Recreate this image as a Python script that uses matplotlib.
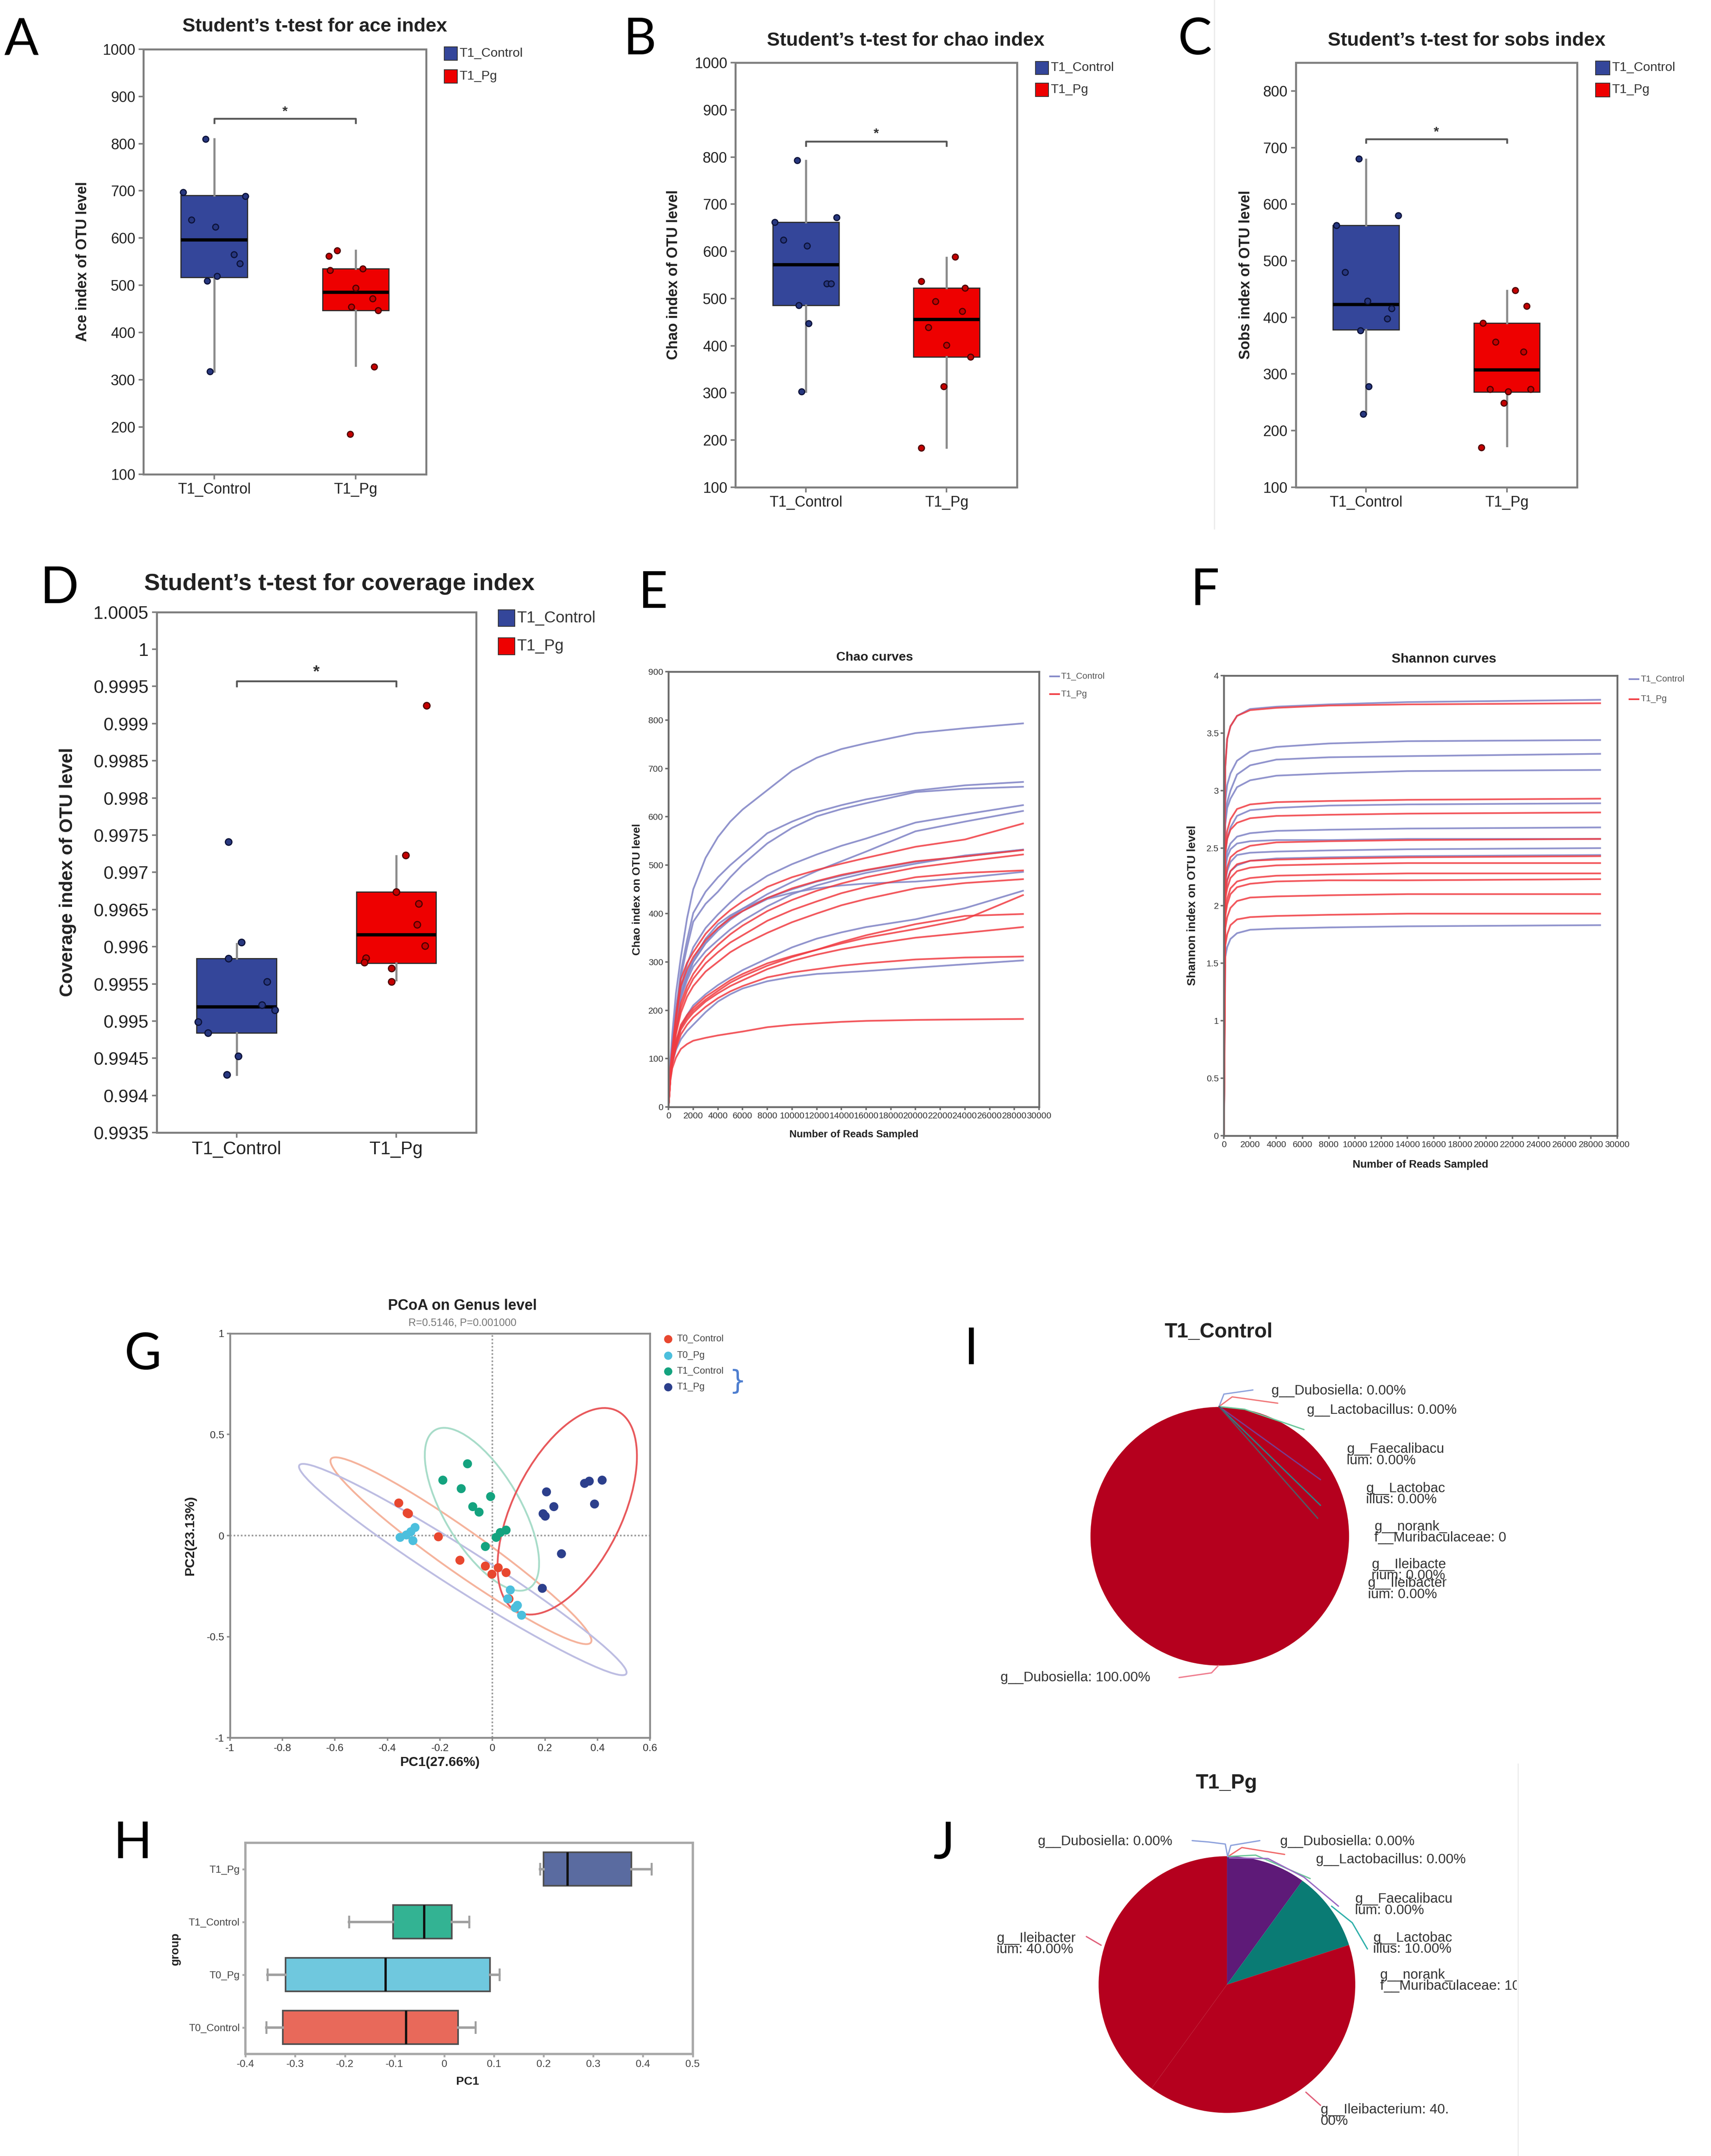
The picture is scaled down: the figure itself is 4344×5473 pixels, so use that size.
import matplotlib
matplotlib.use("Agg")
import matplotlib.pyplot as plt
from matplotlib import font_manager
from matplotlib.patches import Rectangle, Ellipse
from matplotlib.lines import Line2D
import numpy as np

# layout grid: positions below are measured on the reference at 1240 x 1562
W, H = 1240.0, 1562.0

_names = {f.name for f in font_manager.fontManager.ttflist}
SANS = "Liberation Sans"
NARROW = "Liberation Sans Narrow" if "Liberation Sans Narrow" in _names else SANS
LETTER = "Lato" if "Lato" in _names else "DejaVu Sans"
plt.rcParams["font.family"] = [SANS, "DejaVu Sans"]

# ── A-D: alpha diversity, Student's t-test ────────────────────────────────────
GROUPS = ["T1_Control", "T1_Pg"]
BOX_COLORS = ["#34469a", "#ee0000"]
PT_FACE = ["#27377f", "#c40000"]
PT_EDGE = ["#0c1238", "#4a0000"]

ACE_CTRL = [810, 697, 689, 639, 624, 565, 546, 519, 509, 318]
ACE_PG = [574, 562, 532, 535, 494, 472, 454, 447, 328, 185]
ACE_BOX = [[318, 517, 596, 690, 810], [330, 447, 485, 535, 574]]   # whislo q1 med q3 whishi
ACE_JIT = [[-0.06, -0.22, 0.22, -0.16, 0.01, 0.14, 0.18, 0.02, -0.05, -0.03],
           [-0.13, -0.19, -0.18, 0.05, 0.0, 0.12, -0.03, 0.16, 0.13, -0.04]]

CHAO_CTRL = [793, 662, 672, 624, 612, 532, 532, 486, 447, 303]
CHAO_PG = [588, 537, 522, 494, 473, 439, 401, 376, 314, 183]
CHAO_BOX = [[303, 486, 572, 662, 792], [184, 376, 456, 522, 587]]
CHAO_JIT = [[-0.06, -0.22, 0.22, -0.16, 0.01, 0.15, 0.18, -0.05, 0.02, -0.03],
            [0.06, -0.18, 0.13, -0.08, 0.11, -0.13, 0.0, 0.17, -0.02, -0.18]]

SOBS_CTRL = [680, 563, 580, 480, 429, 416, 398, 377, 278, 229]
SOBS_PG = [448, 420, 390, 357, 339, 273, 269, 273, 249, 170]
SOBS_BOX = [[230, 378, 423, 563, 679], [173, 268, 307, 390, 447]]
SOBS_JIT = [[-0.05, -0.21, 0.23, -0.15, 0.01, 0.18, 0.15, -0.04, 0.02, -0.02],
            [0.06, 0.14, -0.17, -0.08, 0.12, -0.12, 0.01, 0.17, -0.02, -0.18]]

COV_CTRL = [0.99741, 0.99606, 0.99584, 0.99553, 0.99522, 0.99515, 0.99499, 0.99484, 0.99453, 0.99428]
COV_PG = [0.99924, 0.99723, 0.99674, 0.99658, 0.99630, 0.99601, 0.99585, 0.99579, 0.99571, 0.99553]
COV_BOX = [[0.99428, 0.99484, 0.99519, 0.99584, 0.99604],
           [0.99555, 0.99578, 0.99616, 0.99674, 0.99722]]
COV_JIT = [[-0.05, 0.03, -0.05, 0.19, 0.16, 0.24, -0.24, -0.18, 0.01, -0.06],
           [0.19, 0.06, 0.0, 0.14, 0.13, 0.18, -0.19, -0.2, -0.03, -0.03]]

# ── E: Chao rarefaction curves ────────────────────────────────────────────────
CHAO_READS = [0, 150, 300, 600, 1000, 1500, 2000, 3000, 4000, 5000, 6000, 8000,
              10000, 12000, 14000, 16000, 20000, 24000, 28700]
CHAO_CURVES_CTRL = [
    [0, 95, 150, 235, 310, 390, 450, 515, 558, 590, 615, 655, 695, 722, 740, 752, 773, 783, 793],
    [0, 85, 130, 200, 280, 345, 401, 445, 475, 500, 522, 566, 590, 610, 624, 636, 654, 665, 672],
    [0, 80, 125, 195, 270, 330, 383, 420, 445, 475, 501, 545, 577, 601, 616, 628, 651, 658, 662],
    [0, 80, 120, 185, 250, 295, 330, 370, 398, 423, 445, 478, 502, 522, 540, 555, 588, 605, 624],
    [0, 75, 115, 175, 230, 270, 300, 340, 370, 392, 410, 440, 465, 488, 508, 528, 570, 590, 612],
    [0, 75, 115, 180, 240, 278, 305, 348, 378, 396, 410, 432, 450, 466, 478, 489, 507, 518, 532],
    [0, 70, 110, 170, 225, 262, 290, 322, 345, 367, 385, 415, 440, 458, 472, 484, 503, 520, 532],
    [0, 70, 110, 170, 230, 270, 300, 338, 365, 387, 405, 430, 443, 452, 458, 462, 466, 474, 486],
    [0, 60, 95, 135, 165, 190, 210, 233, 252, 268, 283, 307, 330, 348, 361, 372, 388, 411, 447],
    [0, 60, 90, 118, 140, 157, 170, 196, 218, 233, 245, 260, 269, 275, 278, 281, 288, 295, 303],
]
CHAO_CURVES_PG = [
    [0, 80, 120, 190, 265, 298, 320, 358, 385, 407, 425, 455, 475, 490, 503, 515, 538, 553, 586],
    [0, 75, 115, 180, 250, 285, 310, 345, 370, 390, 405, 432, 452, 467, 480, 490, 508, 518, 531],
    [0, 70, 110, 160, 215, 250, 275, 310, 335, 357, 375, 405, 428, 447, 462, 475, 495, 508, 522],
    [0, 70, 105, 155, 205, 240, 265, 297, 320, 340, 355, 385, 407, 425, 442, 455, 475, 484, 489],
    [0, 65, 100, 150, 195, 228, 250, 280, 300, 320, 335, 360, 382, 400, 417, 430, 452, 463, 471],
    [0, 60, 95, 135, 170, 190, 205, 228, 245, 262, 275, 297, 312, 325, 338, 350, 368, 388, 438],
    [0, 60, 95, 130, 165, 185, 200, 222, 240, 257, 270, 292, 310, 325, 341, 355, 378, 395, 399],
    [0, 58, 90, 125, 160, 180, 195, 218, 235, 250, 262, 285, 302, 315, 326, 335, 350, 360, 372],
    [0, 58, 90, 122, 150, 170, 185, 207, 225, 239, 250, 268, 278, 285, 292, 297, 305, 309, 311],
    [0, 55, 80, 102, 120, 130, 137, 143, 148, 152, 156, 165, 170, 173, 176, 178, 180, 181, 182],
]

# ── F: Shannon rarefaction curves ─────────────────────────────────────────────
SHANNON_READS = [0, 100, 250, 500, 1000, 2000, 4000, 8000, 14000, 28700]
SHANNON_CURVES_CTRL = [
    [0, 3.20, 3.45, 3.56, 3.65, 3.71, 3.73, 3.75, 3.77, 3.79],
    [0, 2.90, 3.05, 3.15, 3.26, 3.34, 3.38, 3.41, 3.43, 3.44],
    [0, 2.75, 2.90, 3.00, 3.14, 3.22, 3.27, 3.29, 3.30, 3.32],
    [0, 2.70, 2.85, 2.93, 3.03, 3.09, 3.13, 3.15, 3.17, 3.18],
    [0, 2.45, 2.58, 2.68, 2.78, 2.83, 2.85, 2.87, 2.88, 2.89],
    [0, 2.35, 2.47, 2.54, 2.60, 2.63, 2.65, 2.66, 2.67, 2.68],
    [0, 2.30, 2.42, 2.49, 2.54, 2.56, 2.57, 2.57, 2.58, 2.58],
    [0, 2.20, 2.30, 2.38, 2.44, 2.46, 2.47, 2.48, 2.49, 2.50],
    [0, 2.10, 2.22, 2.30, 2.35, 2.39, 2.41, 2.42, 2.43, 2.44],
    [0, 1.55, 1.64, 1.71, 1.76, 1.79, 1.80, 1.81, 1.82, 1.83],
]
SHANNON_CURVES_PG = [
    [0, 3.20, 3.45, 3.56, 3.65, 3.70, 3.72, 3.74, 3.75, 3.76],
    [0, 2.50, 2.65, 2.75, 2.84, 2.88, 2.90, 2.91, 2.92, 2.93],
    [0, 2.45, 2.58, 2.66, 2.72, 2.76, 2.78, 2.79, 2.80, 2.81],
    [0, 2.20, 2.33, 2.42, 2.47, 2.52, 2.55, 2.56, 2.57, 2.58],
    [0, 2.10, 2.22, 2.30, 2.36, 2.39, 2.40, 2.41, 2.42, 2.43],
    [0, 2.05, 2.15, 2.24, 2.30, 2.33, 2.35, 2.36, 2.37, 2.37],
    [0, 1.95, 2.06, 2.15, 2.21, 2.24, 2.26, 2.27, 2.28, 2.28],
    [0, 1.90, 2.01, 2.10, 2.16, 2.19, 2.21, 2.22, 2.22, 2.23],
    [0, 1.80, 1.90, 1.98, 2.04, 2.07, 2.08, 2.09, 2.10, 2.10],
    [0, 1.65, 1.75, 1.83, 1.88, 1.90, 1.91, 1.92, 1.93, 1.93],
]

# ── G: PCoA on genus level ────────────────────────────────────────────────────
PCOA_GROUPS = ["T0_Control", "T0_Pg", "T1_Control", "T1_Pg"]
PCOA_COLORS = ["#e8472f", "#4cbfdd", "#14a37f", "#2c3f8c"]
PC1 = [
    [-0.357, -0.325, -0.320, -0.206, -0.124, -0.027, 0.022, -0.002, 0.052, 0.063],
    [-0.352, -0.328, -0.311, -0.295, -0.303, 0.068, 0.058, 0.095, 0.111, 0.087],
    [-0.095, -0.189, -0.119, -0.007, -0.075, -0.051, 0.052, 0.030, 0.014, -0.027],
    [0.418, 0.369, 0.351, 0.389, 0.206, 0.234, 0.193, 0.201, 0.263, 0.190],
]
PC2 = [
    [0.161, 0.112, 0.108, -0.006, -0.122, -0.151, -0.159, -0.191, -0.183, -0.313],
    [-0.009, 0.003, 0.019, 0.040, -0.025, -0.269, -0.313, -0.345, -0.394, -0.357],
    [0.355, 0.274, 0.232, 0.193, 0.143, 0.116, 0.027, 0.015, -0.009, -0.054],
    [0.274, 0.269, 0.258, 0.156, 0.216, 0.143, 0.108, 0.096, -0.090, -0.261],
]
# confidence ellipses: centre x, centre y, half-major, half-minor, angle (deg)
ELLIPSES = [
    [-0.120, -0.075, 0.672, 0.095, -42.8],
    [-0.113, -0.168, 0.809, 0.090, -39.8],
    [-0.040, 0.130, 0.432, 0.152, 112.7],
    [0.285, 0.120, 0.534, 0.215, 71.4],
]
ELLIPSE_COLORS = ["#f5b39c", "#bdbde2", "#a8dcc9", "#e8595c"]

# ── H: PC1 by group ───────────────────────────────────────────────────────────
PC1_BOX = [  # whislo q1 med q3 whishi, bottom to top
    [-0.358, -0.325, -0.077, 0.028, 0.063],
    [-0.356, -0.319, -0.118, 0.092, 0.111],
    [-0.192, -0.103, -0.040, 0.015, 0.050],
    [0.193, 0.200, 0.248, 0.377, 0.417],
]
PC1_BOX_COLORS = ["#e8695a", "#6fc8de", "#33b393", "#5a6ba0"]

# ── I, J: genus composition pies ──────────────────────────────────────────────
I_GENUS = ["g__Dubosiella", "g__Lactobacillus", "g__Faecalibaculum", "g__Lactobacillus",
           "g__norank_f__Muribaculaceae", "g__Ileibacterium", "g__Ileibacterium", "g__Dubosiella"]
I_PCT = [0, 0, 0, 0, 0, 0, 0, 100]
I_COLORS = ["#8ea2dc", "#f0787a", "#6cc79a", "#7a3b8f", "#2f7f86", "#4f5b66", "#4f5b66", "#b5001e"]
J_GENUS = ["g__Dubosiella", "g__Lactobacillus", "g__Faecalibaculum", "g__Lactobacillus",
           "g__norank_f__Muribaculaceae", "g__Ileibacterium", "g__Ileibacterium", "g__Dubosiella"]
J_PCT = [0, 0, 0, 10, 10, 40, 40, 0]
J_COLORS = ["#8ea2dc", "#f06a6a", "#6cc79a", "#5e1a78", "#0a7b74", "#b5001e", "#b5001e", "#8ea2dc"]


fig = plt.figure(figsize=(4344 / 300 + 1e-6, 5473 / 300 + 1e-6), dpi=300)
fig.patch.set_facecolor("white")


def rect(x0, y0, x1, y1):
    return [x0 / W, 1 - y1 / H, (x1 - x0) / W, (y1 - y0) / H]


def ftext(x, y, s, **kw):
    return fig.text(x / W, 1 - y / H, s, **kw)


def style(ax, color, lw, fs, length=3, family=SANS, labelcolor="#222222", pad=2.0):
    for sp in ax.spines.values():
        sp.set_color(color)
        sp.set_linewidth(lw)
    ax.tick_params(direction="out", length=length, width=lw * 0.8, color=color,
                   labelsize=fs, labelcolor=labelcolor, top=False, right=False, pad=pad)
    for lab in ax.get_xticklabels() + ax.get_yticklabels():
        lab.set_family(family)


def square_legend(x, ys, sq, fs):
    for y, lab, col in zip(ys, GROUPS, BOX_COLORS):
        fig.add_artist(Rectangle((x / W, 1 - (y + sq / 2) / H), sq / W, sq / H,
                                 transform=fig.transFigure, facecolor=col,
                                 edgecolor="#333333", lw=0.5))
        ftext(x + sq + 1.5, y, lab, ha="left", va="center", fontsize=fs, color="#333333")


def t_panel(r, ctrl, pg, boxes, jit, ylim, yticks, title, title_xy, title_fs, ylabel,
            ylabel_x, tick_fs, lab_fs, leg, bracket, widths, pt_size):
    ax = fig.add_axes(rect(*r))
    stats = [dict(whislo=b[0], q1=b[1], med=b[2], q3=b[3], whishi=b[4], fliers=[]) for b in boxes]
    bp = ax.bxp(stats, positions=[0, 1], widths=widths, patch_artist=True,
                showcaps=False, showfliers=False,
                boxprops=dict(edgecolor="#2b2b2b", linewidth=0.7),
                medianprops=dict(color="black", linewidth=2.0),
                whiskerprops=dict(color="#8c8c8c", linewidth=1.3))
    for patch, col in zip(bp["boxes"], BOX_COLORS):
        patch.set_facecolor(col)
    for i, vals in enumerate([ctrl, pg]):
        ax.scatter(i + np.asarray(jit[i]), vals, s=pt_size, c=PT_FACE[i],
                   edgecolors=PT_EDGE[i], linewidths=0.7, zorder=4)
    lo, hi, star = bracket
    ax.plot([0, 0, 1, 1], [lo, hi, hi, lo], color="#555555", lw=1.1)
    ax.text(0.5, star, "*", ha="center", va="center", fontsize=title_fs * 0.7,
            fontweight="bold", color="#333333")
    ax.set_xlim(-0.5, 1.5)
    ax.set_ylim(*ylim)
    ax.set_yticks(yticks)
    ax.set_yticklabels(["%g" % round(t, 6) for t in yticks])
    ax.set_xticks([0, 1])
    ax.set_xticklabels(GROUPS)
    style(ax, "#7f7f7f", 1.2, tick_fs, length=3)
    ftext(title_xy[0], title_xy[1], title, ha="center", va="center",
          fontsize=title_fs, fontweight="bold", color="#222222")
    ftext(ylabel_x, (r[1] + r[3]) / 2, ylabel, rotation=90, ha="center", va="center",
          fontsize=lab_fs, fontweight="bold", color="#222222")
    square_legend(*leg)
    return ax


t_panel((104, 35.6, 309, 343.6), ACE_CTRL, ACE_PG, ACE_BOX, ACE_JIT, (100, 1000),
        list(range(100, 1001, 100)), "Student\u2019s t-test for ace index", (228, 19.2), 11.8,
        "Ace index of OTU level", 60, 9.0, 9.0, (322, [38.8, 55.4], 9.5, 7.8),
        (844, 853, 867), 0.47, 13)
t_panel((533, 45.4, 737, 353), CHAO_CTRL, CHAO_PG, CHAO_BOX, CHAO_JIT, (100, 1000),
        list(range(100, 1001, 100)), "Student\u2019s t-test for chao index", (656.3, 29.5), 11.8,
        "Chao index of OTU level", 488, 9.0, 9.0, (750.5, [49.2, 65.1], 9.5, 7.8),
        (824, 833, 849), 0.47, 13)
t_panel((939, 45.4, 1143, 353), SOBS_CTRL, SOBS_PG, SOBS_BOX, SOBS_JIT, (100, 850),
        list(range(100, 801, 100)), "Student\u2019s t-test for sobs index", (1063, 29.5), 11.8,
        "Sobs index of OTU level", 903, 9.0, 9.0, (1156.5, [49.2, 65.1], 10, 7.8),
        (709, 715, 727), 0.47, 13)
t_panel((113.6, 443.4, 345, 820.6), COV_CTRL, COV_PG, COV_BOX, COV_JIT, (0.9935, 1.0005),
        list(np.linspace(0.9935, 1.0005, 15)), "Student\u2019s t-test for coverage index",
        (246, 423), 14.5, "Coverage index of OTU level", 49, 11.0, 11.2,
        (361, [447.7, 468.2], 12, 9.7), (0.99950, 0.99957, 0.99969), 0.5, 16)


def curve_panel(r, reads, ctrl, pg, ylim, yticks, title, title_xy, title_fs,
                xlabel_y, xlab_fs, ylabel, ylabel_x, ylab_fs, leg_x, leg_ys):
    ax = fig.add_axes(rect(*r))
    for c in ctrl:
        ax.plot(reads, c, color="#8589c8", lw=1.05, alpha=0.9, solid_joinstyle="round")
    for c in pg:
        ax.plot(reads, c, color="#f03c42", lw=1.05, alpha=0.85, solid_joinstyle="round")
    ax.set_xlim(0, 30000)
    ax.set_ylim(*ylim)
    xt = list(range(0, 30001, 2000))
    ax.set_xticks(xt)
    ax.set_xticklabels([str(v) for v in xt])
    ax.set_yticks(yticks)
    ax.set_yticklabels(["%g" % t for t in yticks])
    style(ax, "#6a6a6a", 1.1, 5.4, length=2, labelcolor="#333333", pad=1.2)
    ftext(title_xy[0], title_xy[1], title, ha="center", va="center",
          fontsize=title_fs, fontweight="bold", color="#222222")
    ftext((r[0] + r[2]) / 2, xlabel_y, "Number of Reads Sampled", ha="center", va="center",
          fontsize=xlab_fs, fontweight="bold", color="#222222")
    ftext(ylabel_x, (r[1] + r[3]) / 2, ylabel, rotation=90, ha="center", va="center",
          fontsize=ylab_fs, fontweight="bold", color="#222222")
    for y, lab, col in zip(leg_ys, GROUPS, ["#8589c8", "#f03c42"]):
        fig.add_artist(Line2D([leg_x / W, (leg_x + 6.5) / W], [1 - y / H] * 2,
                              transform=fig.transFigure, color=col, lw=1.0))
        ftext(leg_x + 8, y, lab, ha="left", va="center", fontsize=5.4, color="#555555",
              family=NARROW)
    return ax


curve_panel((484.5, 486.6, 753, 802), CHAO_READS, CHAO_CURVES_CTRL, CHAO_CURVES_PG,
            (0, 900), list(range(0, 901, 100)), "Chao curves", (633.8, 476.4), 7.8,
            822, 6.2, "Chao index on OTU level", 462, 6.8, 761, [490, 503])
curve_panel((887, 489.5, 1172, 822.7), SHANNON_READS, SHANNON_CURVES_CTRL, SHANNON_CURVES_PG,
            (0, 4), [0, 0.5, 1, 1.5, 2, 2.5, 3, 3.5, 4], "Shannon curves", (1046.5, 477.6), 8.2,
            843.8, 6.5, "Shannon index on OTU level", 864, 7.2, 1181, [492, 506.5])

# ── G ─────────────────────────────────────────────────────────────────────────
axg = fig.add_axes(rect(166.7, 966, 471, 1259))
axg.axhline(0, color="#9a9a9a", lw=1.0, ls=(0, (1, 1.2)), zorder=1)
axg.axvline(0, color="#9a9a9a", lw=1.0, ls=(0, (1, 1.2)), zorder=1)
for (cx, cy, a, b, ang), col in zip(ELLIPSES, ELLIPSE_COLORS):
    axg.add_patch(Ellipse((cx, cy), 2 * a, 2 * b, angle=ang, fill=False,
                          edgecolor=col, lw=1.1, zorder=2))
for xs, ys, col in zip(PC1, PC2, PCOA_COLORS):
    axg.scatter(xs, ys, s=30, c=col, edgecolors="none", zorder=3)
axg.set_xlim(-1, 0.6)
axg.set_ylim(-1, 1)
gx = [-1, -0.8, -0.6, -0.4, -0.2, 0, 0.2, 0.4, 0.6]
gy = [-1, -0.5, 0, 0.5, 1]
axg.set_xticks(gx)
axg.set_xticklabels(["%g" % v for v in gx])
axg.set_yticks(gy)
axg.set_yticklabels(["%g" % v for v in gy])
style(axg, "#8a8a8a", 1.1, 6.3, length=2, family=NARROW, labelcolor="#333333", pad=1.5)
ftext(335, 946, "PCoA on Genus level", ha="center", va="center", fontsize=9.0,
      fontweight="bold", color="#222222")
ftext(335, 958.5, "R=0.5146, P=0.001000", ha="center", va="center", fontsize=6.4,
      color="#777777")
ftext(319, 1277, "PC1(27.66%)", ha="center", va="center", fontsize=8.1,
      fontweight="bold", color="#222222")
ftext(138, 1112.5, "PC2(23.13%)", rotation=90, ha="center", va="center", fontsize=8.1,
      fontweight="bold", color="#222222")
for y, lab, col in zip([970, 982, 993.5, 1005], PCOA_GROUPS, PCOA_COLORS):
    fig.add_artist(Line2D([484 / W], [1 - y / H], transform=fig.transFigure, marker="o",
                          markersize=5, color=col, markeredgewidth=0))
    ftext(490.5, y, lab, ha="left", va="center", fontsize=5.8, color="#444444", family=NARROW)
ftext(534.5, 1001, "}", ha="center", va="center", fontsize=16, color="#4f7fd0",
      family="DejaVu Sans")

# ── H ─────────────────────────────────────────────────────────────────────────
axh = fig.add_axes(rect(177.9, 1335, 502, 1488))
hstats = [dict(whislo=b[0], q1=b[1], med=b[2], q3=b[3], whishi=b[4], fliers=[]) for b in PC1_BOX]
hkw = dict(positions=[0, 1, 2, 3], widths=0.63, patch_artist=True, showfliers=False,
           capwidths=0.2,
           boxprops=dict(edgecolor="#505050", linewidth=1.0),
           medianprops=dict(color="#111111", linewidth=1.4),
           whiskerprops=dict(color="#a0a0a0", linewidth=1.5),
           capprops=dict(color="#a0a0a0", linewidth=1.2))
try:
    hbp = axh.bxp(hstats, orientation="horizontal", **hkw)
except TypeError:
    hbp = axh.bxp(hstats, vert=False, **hkw)
for patch, col in zip(hbp["boxes"], PC1_BOX_COLORS):
    patch.set_facecolor(col)
axh.set_xlim(-0.4, 0.5)
axh.set_ylim(-0.5, 3.5)
hx = [-0.4, -0.3, -0.2, -0.1, 0, 0.1, 0.2, 0.3, 0.4, 0.5]
axh.set_xticks(hx)
axh.set_xticklabels(["%g" % v for v in hx])
axh.set_yticks([0, 1, 2, 3])
axh.set_yticklabels(PCOA_GROUPS)
style(axh, "#a8a8a8", 1.4, 6.3, length=2, family=NARROW, labelcolor="#444444", pad=1.5)
ftext(339, 1508, "PC1", ha="center", va="center", fontsize=7.2, fontweight="bold",
      color="#222222")
ftext(127, 1412, "group", rotation=90, ha="center", va="center", fontsize=7.1,
      fontweight="bold", color="#222222")


# ── I, J ──────────────────────────────────────────────────────────────────────
def wrap(s, k):
    return s if k is None else s[:k] + "\n" + s[k:]


def pie_panel(region, center, radius, genus, pct, colors, title, title_xy, breaks,
              lab_pos, leaders, leader_colors):
    x0, y0, x1, y1 = region
    ax = fig.add_axes(rect(*region))
    ax.pie(pct, colors=colors, startangle=90, counterclock=False,
           center=(center[0], H - center[1]), radius=radius,
           wedgeprops=dict(linewidth=0), frame=True)
    ax.set_xlim(x0, x1)
    ax.set_ylim(H - y1, H - y0)
    ax.axis("off")
    for path, col in zip(leaders, leader_colors):
        ax.plot([p[0] for p in path], [H - p[1] for p in path], color=col, lw=0.8,
                solid_capstyle="round", zorder=5)
    for g, p, k, (tx, ty, ha) in zip(genus, pct, breaks, lab_pos):
        ax.text(tx, H - ty, wrap("%s: %.2f%%" % (g, p), k), ha=ha, va="center",
                fontsize=8.4, linespacing=0.82, color="#333333", clip_on=True, zorder=6)
    ftext(title_xy[0], title_xy[1], title, ha="center", va="center", fontsize=12.5,
          fontweight="bold", color="#222222")


pie_panel((688, 940, 1092.2, 1240), (884, 1113), 93.7, I_GENUS, I_PCT, I_COLORS,
          "T1_Control", (883, 965), [None, None, 14, 11, 10, 12, 13, None],
          [(921.5, 1007.5, "left"), (947, 1021.7, "left"), (976, 1054, "left"),
           (990, 1082.3, "left"), (996, 1110, "left"), (994, 1137.5, "left"),
           (991.3, 1151, "left"), (725, 1215.4, "left")],
          [[(883.5, 1019), (887, 1010), (908, 1007)],
           [(883.5, 1019), (893, 1012), (926, 1016.6)],
           [(883.5, 1019), (902, 1021), (945, 1035.7)],
           [(883.5, 1019), (957, 1072)],
           [(883.5, 1019), (957, 1090.6)],
           [(883.5, 1019), (955, 1100)],
           [(883, 1206.7), (878, 1212), (854.5, 1215.4)]],
          ["#8ea2dc", "#f0787a", "#6cc79a", "#7a3b8f", "#2f7f86", "#4f5b66", "#ef7c8e"])

pie_panel((688, 1300, 1099.3, 1562), (889.2, 1437.8), 93, J_GENUS, J_PCT, J_COLORS,
          "T1_Pg", (888.7, 1291.8), [None, None, 14, 11, 10, 21, 13, None],
          [(927.6, 1334, "left"), (953.7, 1347.1, "left"), (982, 1379.9, "left"),
           (995.2, 1408, "left"), (1000.2, 1434.8, "left"), (957.1, 1532.6, "left"),
           (722.3, 1408.4, "left"), (849.7, 1334, "right")],
          [[(889.7, 1345), (892, 1337), (913, 1333.5)],
           [(890, 1345), (900, 1338.5), (931, 1343.5)],
           [(890, 1345), (910, 1344), (949.5, 1361)],
           [(891, 1346), (919, 1346.5), (945, 1360), (970, 1381)],
           [(965, 1381), (980, 1393), (991, 1412)],
           [(946.4, 1515.8), (957, 1525.3)],
           [(798, 1409.3), (787.3, 1403)],
           [(889.7, 1345), (888, 1336), (876, 1334.5), (864, 1333.5)]],
          ["#8ea2dc", "#f06a6a", "#6cc79a", "#9a6ac4", "#2fb0aa", "#e0607a", "#e0607a",
           "#8ea2dc"])

# faint frame edges from the pasted sub-figures
fig.add_artist(Line2D([880 / W] * 2, [1.0, 1 - 383 / H], transform=fig.transFigure,
                      color="#ececec", lw=0.8))
fig.add_artist(Line2D([1100 / W] * 2, [1 - 1278 / H, 0.0], transform=fig.transFigure,
                      color="#eeeeee", lw=0.8))

# panel letters
for s, x, y in [("A", 15.6, 29.5), ("B", 463.6, 29), ("C", 866, 29), ("D", 43, 426.6),
                ("E", 473, 430), ("F", 873, 428), ("G", 103.5, 981.6), ("H", 96, 1335.7),
                ("I", 703.6, 978), ("J", 684, 1336)]:
    ftext(x, y, s, ha="center", va="center", fontsize=31, family=LETTER, color="black")

fig.savefig("out.png", dpi=300, facecolor="white")
